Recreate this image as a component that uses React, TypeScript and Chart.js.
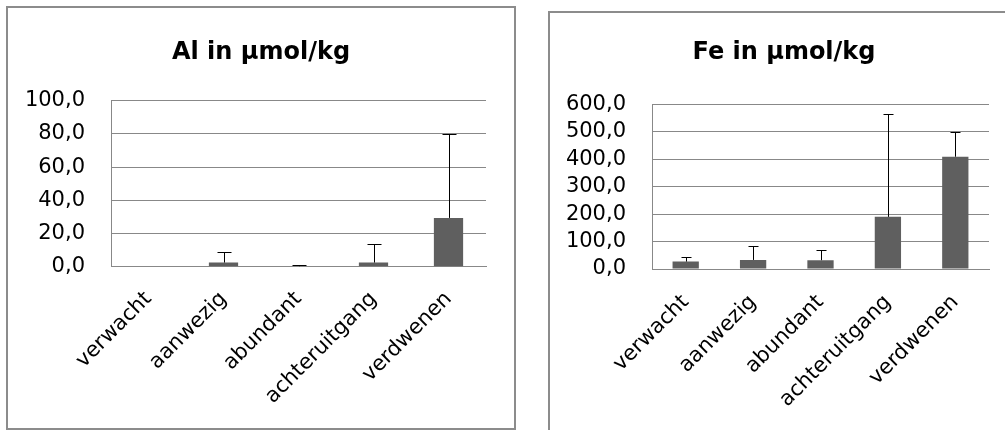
import React, { useEffect, useRef } from 'react';
import { Chart, registerables } from 'chart.js';

Chart.register(...registerables);

const categories = ['verwacht', 'aanwezig', 'abundant', 'achteruitgang', 'verdwenen'];

const alTitle = 'Al in µmol/kg';
const alValues = [0, 2.5, 0.3, 2.5, 29.4];
const alErrors = [0, 6.1, 0.5, 11.1, 50.6];
const alMax = 100;
const alStep = 20;

const feTitle = 'Fe in µmol/kg';
const feValues = [27, 33, 32, 190, 409];
const feErrors = [18, 52, 37, 373, 89];
const feMax = 600;
const feStep = 100;

const FONT = 'DejaVu Sans';
const GRID = '#888888';
const BAR = '#5f5f5f';

const errorBarPlugin = {
  id: 'errorBars',
  afterDatasetsDraw(chart: any, _args: any, opts: any) {
    const { ctx } = chart;
    const yScale = chart.scales.y;
    const meta = chart.getDatasetMeta(0);
    const values: number[] = opts.values;
    const errors: number[] = opts.errors;
    const capHalf: number = opts.capHalf;
    ctx.save();
    ctx.strokeStyle = '#000';
    ctx.lineWidth = 1;
    meta.data.forEach((el: any, i: number) => {
      const e = errors[i];
      if (!e || e <= 0) return;
      const x = Math.round(el.x) + 0.5;
      const yBase = yScale.getPixelForValue(values[i]);
      const yTop = Math.round(yScale.getPixelForValue(values[i] + e)) + 0.5;
      ctx.beginPath();
      ctx.moveTo(x, yBase);
      ctx.lineTo(x, yTop);
      ctx.moveTo(x - capHalf, yTop);
      ctx.lineTo(x + capHalf, yTop);
      ctx.stroke();
    });
    ctx.restore();
  },
};

type Cfg = {
  title: string;
  values: number[];
  errors: number[];
  max: number;
  step: number;
  width: number;
  height: number;
  padTop: number;
  titleBottom: number;
  side: number;
  yWidth: number;
  xHeight: number;
  capHalf: number;
  labelPad: number;
};

function BarChart(props: Cfg) {
  const ref = useRef<HTMLCanvasElement>(null);
  useEffect(() => {
    if (!ref.current) return;
    const chart = new Chart(ref.current, {
      type: 'bar',
      data: {
        labels: categories,
        datasets: [
          {
            data: props.values,
            backgroundColor: BAR,
            borderWidth: 0,
            barPercentage: 0.39,
            categoryPercentage: 1,
          },
        ],
      },
      options: {
        animation: false,
        responsive: false,
        devicePixelRatio: 1,
        layout: { padding: { top: props.padTop, right: props.side, left: props.side, bottom: 0 } },
        plugins: {
          legend: { display: false },
          tooltip: { enabled: false },
          title: {
            display: true,
            text: props.title,
            color: '#000',
            font: { family: FONT, size: 24, weight: 'bold' },
            padding: { top: 0, bottom: props.titleBottom },
          },
          errorBars: { values: props.values, errors: props.errors, capHalf: props.capHalf },
        } as any,
        scales: {
          x: {
            grid: { display: false, drawTicks: false },
            border: { display: true, color: GRID, width: 1 },
            ticks: {
              autoSkip: false,
              minRotation: 45,
              maxRotation: 45,
              color: '#000',
              padding: props.labelPad,
              font: { family: FONT, size: 21 },
            },
            afterFit: (s: any) => {
              s.height = props.xHeight;
            },
          },
          y: {
            min: 0,
            max: props.max,
            ticks: {
              stepSize: props.step,
              autoSkip: false,
              color: '#000',
              padding: 26,
              font: { family: FONT, size: 21 },
              callback: (v: any) => Number(v).toFixed(1).replace('.', ','),
            },
            grid: { color: GRID, drawTicks: false, lineWidth: 1 },
            border: { display: true, color: GRID, width: 1 },
            afterFit: (s: any) => {
              s.width = props.yWidth;
            },
          },
          y2: {
            position: 'right',
            display: true,
            grid: { display: false, drawTicks: false },
            border: { display: false },
            ticks: { display: false },
            afterFit: (s: any) => {
              s.width = props.side;
            },
          },
        },
      } as any,
      plugins: [errorBarPlugin],
    });
    return () => chart.destroy();
  }, []);
  return <canvas ref={ref} width={props.width} height={props.height} style={{ display: 'block' }} />;
}

export default function App() {
  const box: React.CSSProperties = {
    position: 'absolute',
    border: '2px solid #8c8c8c',
    background: '#fff',
  };
  return (
    <div
      style={{
        position: 'fixed',
        left: 0,
        top: 0,
        width: 1005,
        height: 430,
        overflow: 'hidden',
        background: '#fff',
      }}
    >
      <div style={{ ...box, left: 6, top: 6, width: 506, height: 420 }}>
        <BarChart
          title={alTitle}
          values={alValues}
          errors={alErrors}
          max={alMax}
          step={alStep}
          width={506}
          height={420}
          padTop={30.6}
          titleBottom={33.3}
          side={14}
          yWidth={89}
          xHeight={161.3}
          capHalf={7}
          labelPad={20}
        />
      </div>
      <div style={{ ...box, left: 548, top: 11, width: 468, height: 420 }}>
        <BarChart
          title={feTitle}
          values={feValues}
          errors={feErrors}
          max={feMax}
          step={feStep}
          width={468}
          height={420}
          padTop={25.6}
          titleBottom={36.9}
          side={14.5}
          yWidth={87.5}
          xHeight={164}
          capHalf={5}
          labelPad={21}
        />
      </div>
    </div>
  );
}
